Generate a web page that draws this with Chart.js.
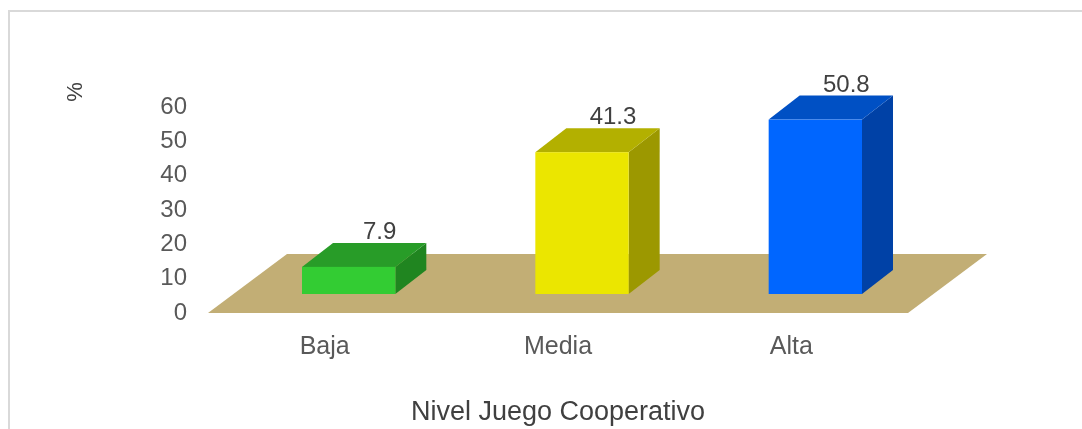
<!DOCTYPE html>
<html>
<head>
<meta charset="utf-8">
<script src="https://cdn.jsdelivr.net/npm/chart.js@4.4.0/dist/chart.umd.min.js"></script>
<style>
  body { margin: 0; background: #fff; overflow: hidden; }
  #wrap { position: relative; width: 1082px; height: 429px; }
  #marco { position: absolute; left: 8px; top: 10px; width: 1200px; height: 600px;
           border-left: 2px solid #d9d9d9; border-top: 2px solid #d9d9d9; }
  #graphCanvas { position: absolute; left: 0; top: 0; }
</style>
</head>
<body>
<div id="wrap">
  <div id="marco"></div>
  <canvas id="graphCanvas" width="1082" height="429"></canvas>
</div>
<script>
// datos
var niveles = ['Baja', 'Media', 'Alta'];
var porcentajes = [7.9, 41.3, 50.8];
var ticksY = [0, 10, 20, 30, 40, 50, 60];

// colores de cada barra: frente, tapa y lado
var frente = ['#33cc33', '#ebe600', '#0066ff'];
var tapa = ['#289c28', '#b3b000', '#0050c4'];
var lado = ['#208520', '#9c9800', '#0041a6'];
var colorPiso = '#c2ae75';

// desplazamientos del efecto 3D (px)
var piso = { dx: 79, dy: -59 };
var desp = { dx: 24, dy: -19 };
var prof = { dx: 31, dy: -24 };

var fuente = '"Liberation Sans", Arial, sans-serif';
Chart.defaults.font.family = fuente;
Chart.defaults.font.size = 24;

function poligono(ctx, color, pts) {
  ctx.fillStyle = color;
  ctx.beginPath();
  ctx.moveTo(pts[0][0], pts[0][1]);
  for (var k = 1; k < pts.length; k++) ctx.lineTo(pts[k][0], pts[k][1]);
  ctx.closePath();
  ctx.fill();
}

var barras3d = {
  id: 'barras3d',
  beforeDatasetsDraw: function(chart) {
    var ctx = chart.ctx;
    var a = chart.chartArea;
    ctx.save();

    // piso
    poligono(ctx, colorPiso, [
      [a.left, a.bottom], [a.right, a.bottom],
      [a.right + piso.dx, a.bottom + piso.dy], [a.left + piso.dx, a.bottom + piso.dy]
    ]);

    var meta = chart.getDatasetMeta(0);
    var valores = chart.data.datasets[0].data;
    meta.data.forEach(function(bar, i) {
      var p = bar.getProps(['x', 'y', 'base', 'width'], true);
      var x0 = p.x - p.width / 2 + desp.dx;
      var x1 = p.x + p.width / 2 + desp.dx;
      var yTop = p.y + desp.dy;
      var yBot = p.base + desp.dy;

      poligono(ctx, lado[i], [
        [x1, yBot], [x1 + prof.dx, yBot + prof.dy],
        [x1 + prof.dx, yTop + prof.dy], [x1, yTop]
      ]);
      poligono(ctx, tapa[i], [
        [x0, yTop], [x1, yTop],
        [x1 + prof.dx, yTop + prof.dy], [x0 + prof.dx, yTop + prof.dy]
      ]);
      ctx.fillStyle = frente[i];
      ctx.fillRect(x0, yTop, x1 - x0, yBot - yTop);

      // etiqueta de valor
      ctx.fillStyle = '#404040';
      ctx.font = '24px ' + fuente;
      ctx.textAlign = 'center';
      ctx.textBaseline = 'alphabetic';
      ctx.fillText(String(valores[i]), (x0 + x1) / 2 + prof.dx, yTop + prof.dy - 4);
    });

    // titulo del eje y
    ctx.translate(76, 92);
    ctx.rotate(-Math.PI / 2);
    ctx.fillStyle = '#404040';
    ctx.font = '22px ' + fuente;
    ctx.textAlign = 'center';
    ctx.textBaseline = 'middle';
    ctx.fillText(chart.options.scales.y.title.text, 0, 0);

    ctx.restore();
    return false;
  }
};

var graphTarget = document.getElementById('graphCanvas');
var barGraph = new Chart(graphTarget, {
  type: 'bar',
  data: {
    labels: niveles,
    datasets: [{
      label: '%',
      data: porcentajes,
      backgroundColor: frente,
      barPercentage: 0.4,
      categoryPercentage: 1.0
    }]
  },
  options: {
    responsive: false,
    animation: false,
    layout: { padding: { left: 0, top: 107, right: 174, bottom: 0 } },
    plugins: { legend: { display: false }, tooltip: { enabled: false } },
    scales: {
      x: {
        grid: { display: false, drawTicks: false },
        border: { display: false },
        ticks: { color: '#595959', padding: 19, font: { size: 25 } },
        title: { display: true, text: 'Nivel Juego Cooperativo', color: '#404040',
                 font: { size: 27 }, padding: { top: 0, bottom: 0 } },
        afterFit: function(s) { s.height = 116; }
      },
      y: {
        min: ticksY[0],
        max: ticksY[ticksY.length - 1],
        grid: { display: false, drawTicks: false },
        border: { display: false },
        ticks: { stepSize: ticksY[1] - ticksY[0], color: '#595959', padding: 21 },
        title: { display: false, text: '%' },
        afterFit: function(s) { s.width = 208; }
      }
    }
  },
  plugins: [barras3d]
});
</script>
</body>
</html>
